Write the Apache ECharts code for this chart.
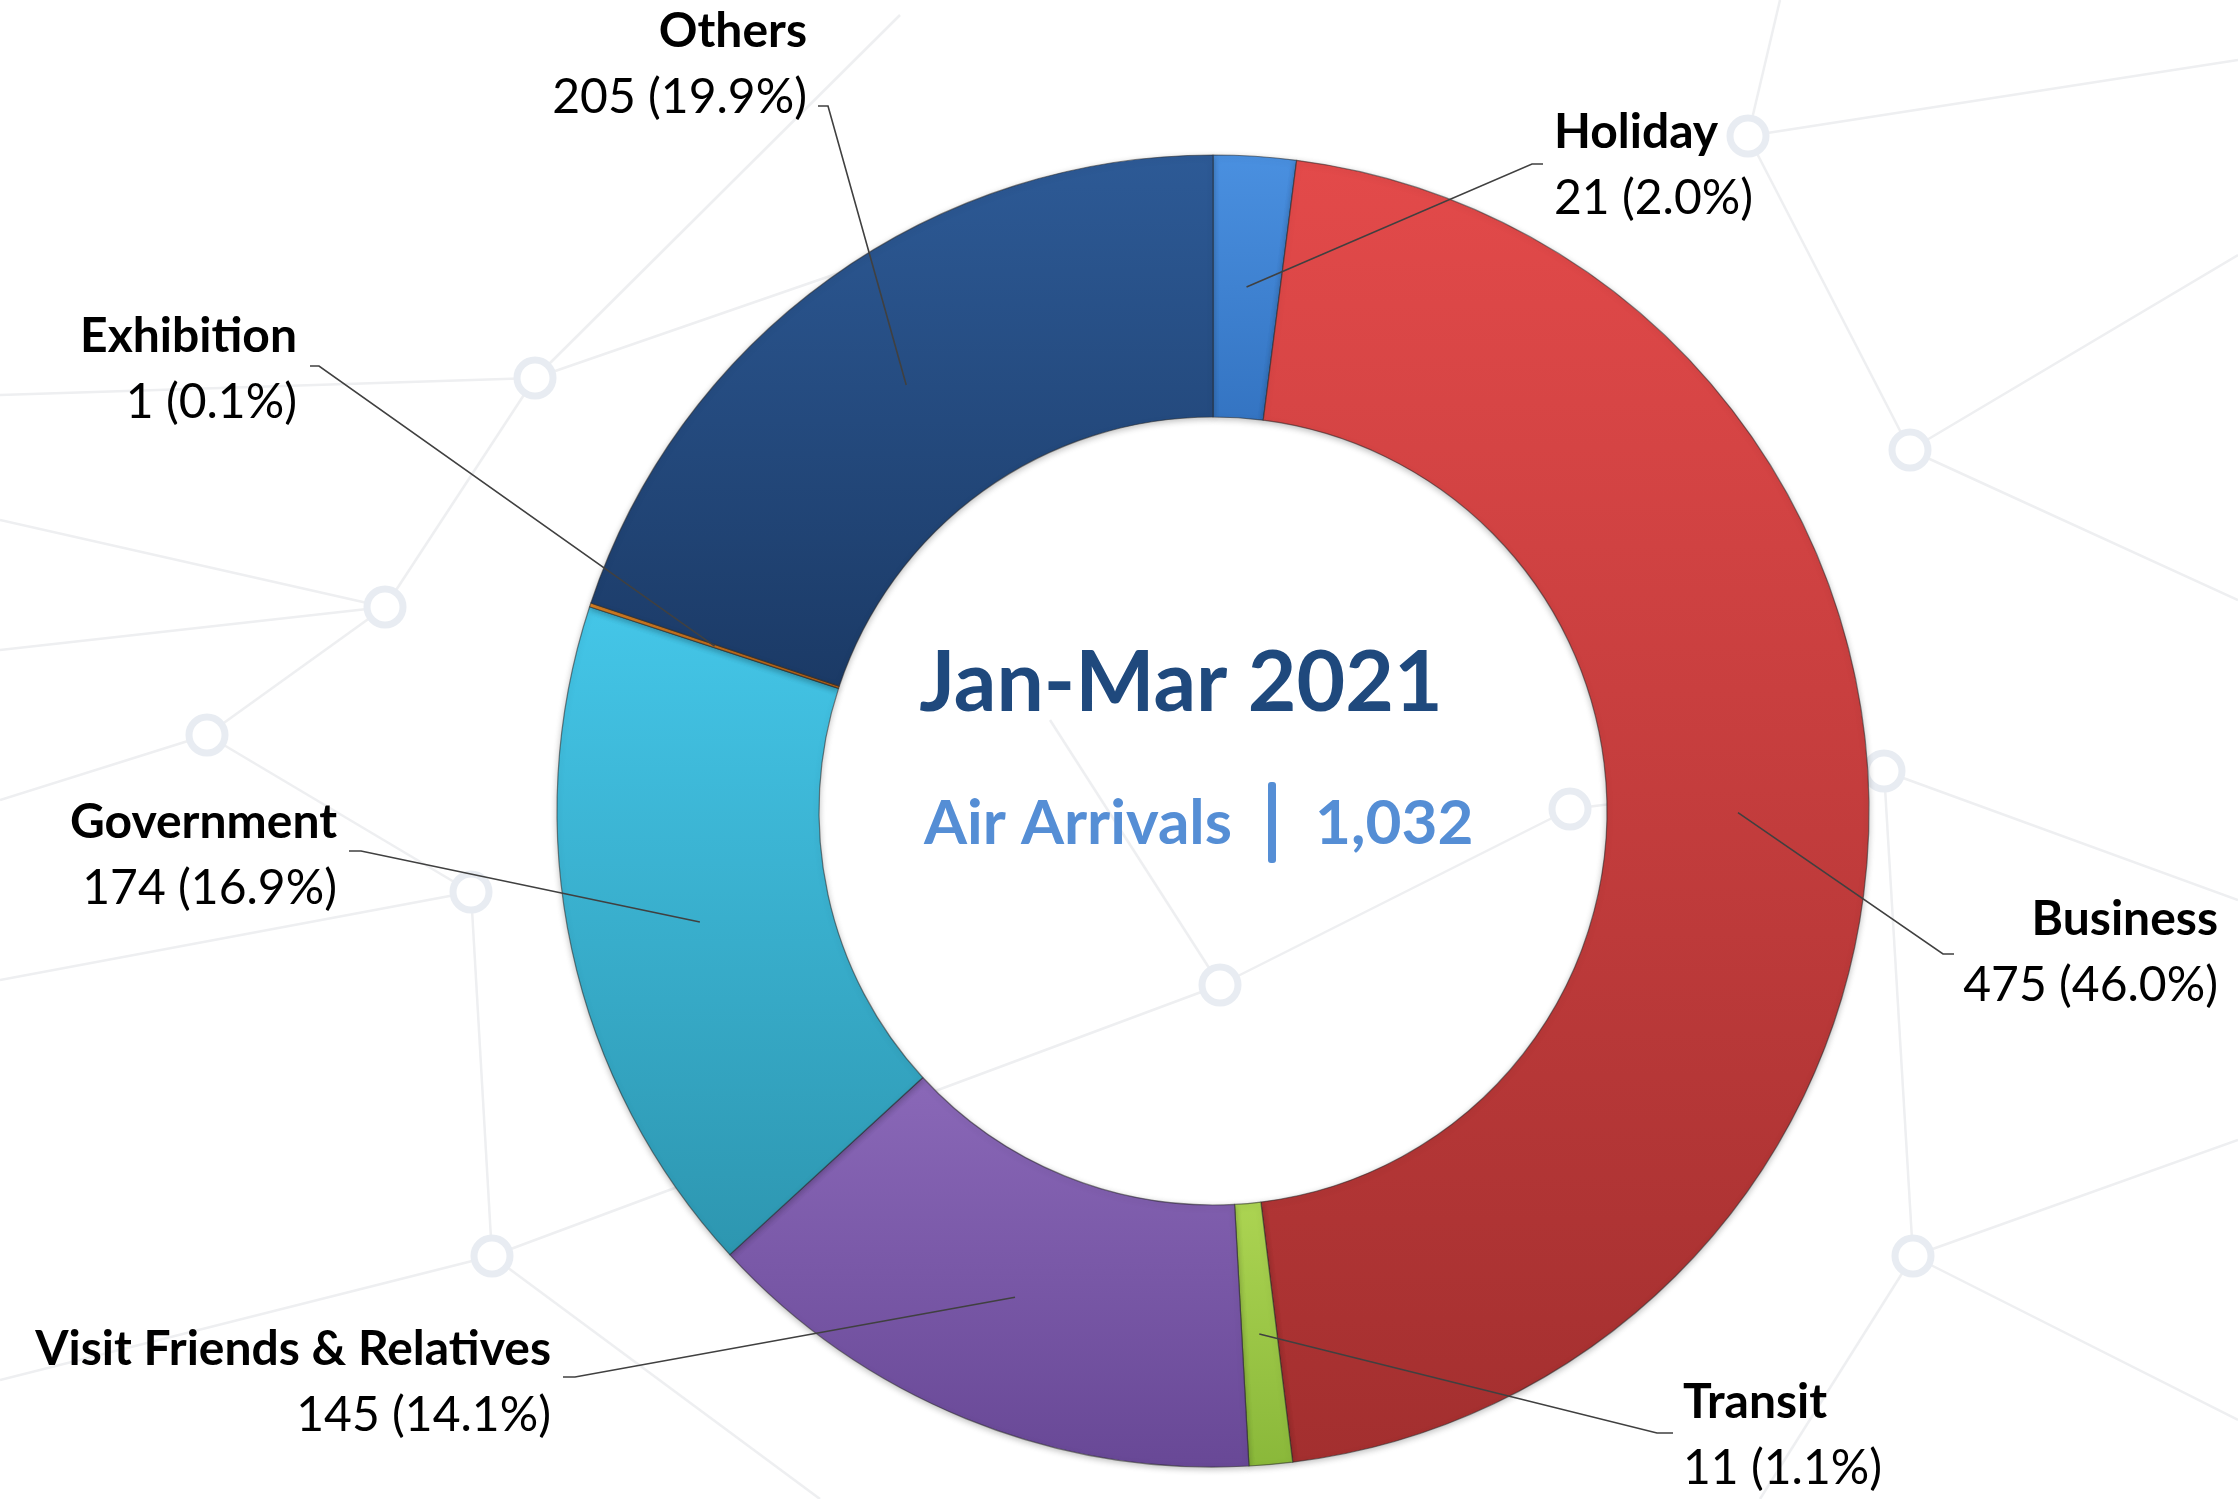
<!DOCTYPE html>
<html lang="en">
<head>
    <meta charset="utf-8" />
    <title>Air Arrivals Jan-Mar 2021</title>
    <script src="https://cdn.jsdelivr.net/npm/echarts@6/dist/echarts.min.js"></script>
    <style>
        html, body, #main {
            width: 100%;
            height: 100%;
            margin: 0;
            padding: 0;
            background: #ffffff;
        }
    </style>
</head>
<body>
<div id="main"></div>
<script>
    // data
    var categories = ['Holiday', 'Business', 'Transit', 'Visit Friends & Relatives', 'Government', 'Exhibition', 'Others'];
    var arrivals = [21, 475, 11, 145, 174, 1, 205];
    var periodLabel = 'Jan-Mar 2021';
    var totalLabel = 'Air Arrivals';

    // style / layout
    var sliceColors = [
        ['#4a90e0', '#3474c2'],
        ['#e34a4a', '#a32f2f'],
        ['#acd452', '#8ab83a'],
        ['#8a68b8', '#684896'],
        ['#44c6e8', '#2d96b0'],
        ['#f0902a', '#d0701a'],
        ['#2d5a96', '#1b3a66']
    ];
    var CX = 1213, CY = 811, R0 = 394, R1 = 656;
    // label anchor x, name-line centre y, align, leader elbow [x1, x2, y]
    var labelPos = [
        {x: 1554, y: 133, align: 'left', e: [1543, 1532, 164]},
        {x: 2218, y: 920, align: 'right', e: [1954, 1943, 954]},
        {x: 1683, y: 1403, align: 'left', e: [1673, 1657, 1433]},
        {x: 551, y: 1350, align: 'right', e: [563, 575, 1377]},
        {x: 337, y: 823, align: 'right', e: [349, 361, 851]},
        {x: 297, y: 337, align: 'right', e: [310, 319, 366]},
        {x: 807, y: 32, align: 'right', e: [818, 828, 106]}
    ];

    var total = arrivals.reduce(function (a, b) { return a + b; }, 0);

    // mid point of each ring slice (where the leader line ends)
    function slicePoint(i) {
        var before = 0;
        for (var k = 0; k < i; k++) before += arrivals[k];
        var a = (before + arrivals[i] / 2) / total * Math.PI * 2;
        var r = (R0 + R1) / 2;
        return [CX + r * Math.sin(a), CY - r * Math.cos(a)];
    }

    // faint network pattern in the background
    var netNodes = [
        [535, 378], [385, 607], [207, 735], [471, 892], [492, 1256], [1220, 985],
        [1570, 809], [1748, 136], [1910, 450], [1913, 1256], [1884, 771]
    ];
    var netEdges = [
        [[0, 395], [535, 378]], [[535, 378], [900, 15]], [[535, 378], [385, 607]],
        [[385, 607], [0, 520]], [[385, 607], [207, 735]], [[207, 735], [0, 800]],
        [[207, 735], [471, 892]], [[471, 892], [0, 980]], [[471, 892], [492, 1256]],
        [[492, 1256], [0, 1380]], [[492, 1256], [820, 1499]], [[492, 1256], [1220, 985]],
        [[1220, 985], [1570, 809]], [[1220, 985], [1050, 720]], [[1570, 809], [1884, 771]],
        [[1748, 136], [2238, 60]], [[1748, 136], [1780, 0]], [[1748, 136], [1910, 450]],
        [[1910, 450], [2238, 255]], [[1910, 450], [2238, 600]], [[1884, 771], [2238, 900]],
        [[1884, 771], [1913, 1256]], [[1913, 1256], [2238, 1140]], [[1913, 1256], [2238, 1420]],
        [[1913, 1256], [1760, 1499]], [[385, 607], [0, 650]], [[535, 378], [1050, 200]]
    ];
    var bg = [];
    netEdges.forEach(function (e) {
        bg.push({
            type: 'line', silent: true, z: -10,
            shape: {x1: e[0][0], y1: e[0][1], x2: e[1][0], y2: e[1][1]},
            style: {stroke: '#eeeff1', lineWidth: 2.5}
        });
    });
    netNodes.forEach(function (n) {
        bg.push({
            type: 'circle', silent: true, z: -9,
            shape: {cx: n[0], cy: n[1], r: 18},
            style: {fill: '#ffffff', stroke: '#e8ecf2', lineWidth: 7}
        });
    });

    // leader lines drawn above the ring
    var leaders = labelPos.map(function (L, i) {
        return {
            type: 'polyline', silent: true, z: 20,
            shape: {points: [[L.e[0], L.e[2]], [L.e[1], L.e[2]], slicePoint(i)]},
            style: {stroke: '#404040', lineWidth: 1.6, fill: null}
        };
    });

    var font = 'Lato, "Open Sans", sans-serif';
    var centreText = [
        {
            type: 'text', z: 10, x: 1181, y: 684,
            style: {text: periodLabel, fill: '#1f497d', font: 'bold 84px ' + font, textAlign: 'center', textVerticalAlign: 'middle'}
        },
        {
            type: 'text', z: 10, x: 1232, y: 824,
            style: {text: totalLabel, fill: '#558ed5', font: 'bold 62px ' + font, textAlign: 'right', textVerticalAlign: 'middle'}
        },
        {
            type: 'rect', z: 10, shape: {x: 1268, y: 782, width: 8, height: 81, r: 3},
            style: {fill: '#558ed5'}
        },
        {
            type: 'text', z: 10, x: 1315, y: 824,
            style: {text: total.toLocaleString('en-US'), fill: '#558ed5', font: 'bold 62px ' + font, textAlign: 'left', textVerticalAlign: 'middle'}
        }
    ];

    var pieData = categories.map(function (name, i) {
        return {
            name: name,
            value: arrivals[i],
            itemStyle: {
                color: {
                    type: 'linear', x: 0, y: 0, x2: 0, y2: 1,
                    colorStops: [{offset: 0, color: sliceColors[i][0]}, {offset: 1, color: sliceColors[i][1]}]
                }
            }
        };
    });

    var myChart = echarts.init(document.getElementById('main'));
    myChart.setOption({
        backgroundColor: '#ffffff',
        animation: false,
        graphic: bg.concat(leaders, centreText),
        series: [
            {
                type: 'pie',
                center: [CX, CY],
                radius: [R0, R1],
                startAngle: 90,
                clockwise: true,
                avoidLabelOverlap: false,
                data: pieData,
                itemStyle: {
                    borderColor: 'rgba(40,40,40,0.55)',
                    borderWidth: 1.2,
                    shadowColor: 'rgba(0,0,0,0.25)',
                    shadowBlur: 6,
                    shadowOffsetY: 2
                },
                label: {
                    show: true,
                    position: 'outside',
                    formatter: function (p) {
                        var pct = (p.value / total * 100).toFixed(1);
                        return '{n|' + p.name + '}\n{v|' + p.value + ' (' + pct + '%)}';
                    },
                    rich: {
                        n: {fontFamily: font, fontWeight: 'bold', fontSize: 48, lineHeight: 66, color: '#000000'},
                        v: {fontFamily: font, fontSize: 48, lineHeight: 66, color: '#000000'}
                    }
                },
                labelLine: {show: false},
                labelLayout: function (params) {
                    var L = labelPos[params.dataIndex];
                    return {
                        x: L.x,
                        y: L.y - 33,
                        align: L.align,
                        verticalAlign: 'top'
                    };
                }
            }
        ]
    });
</script>
</body>
</html>
